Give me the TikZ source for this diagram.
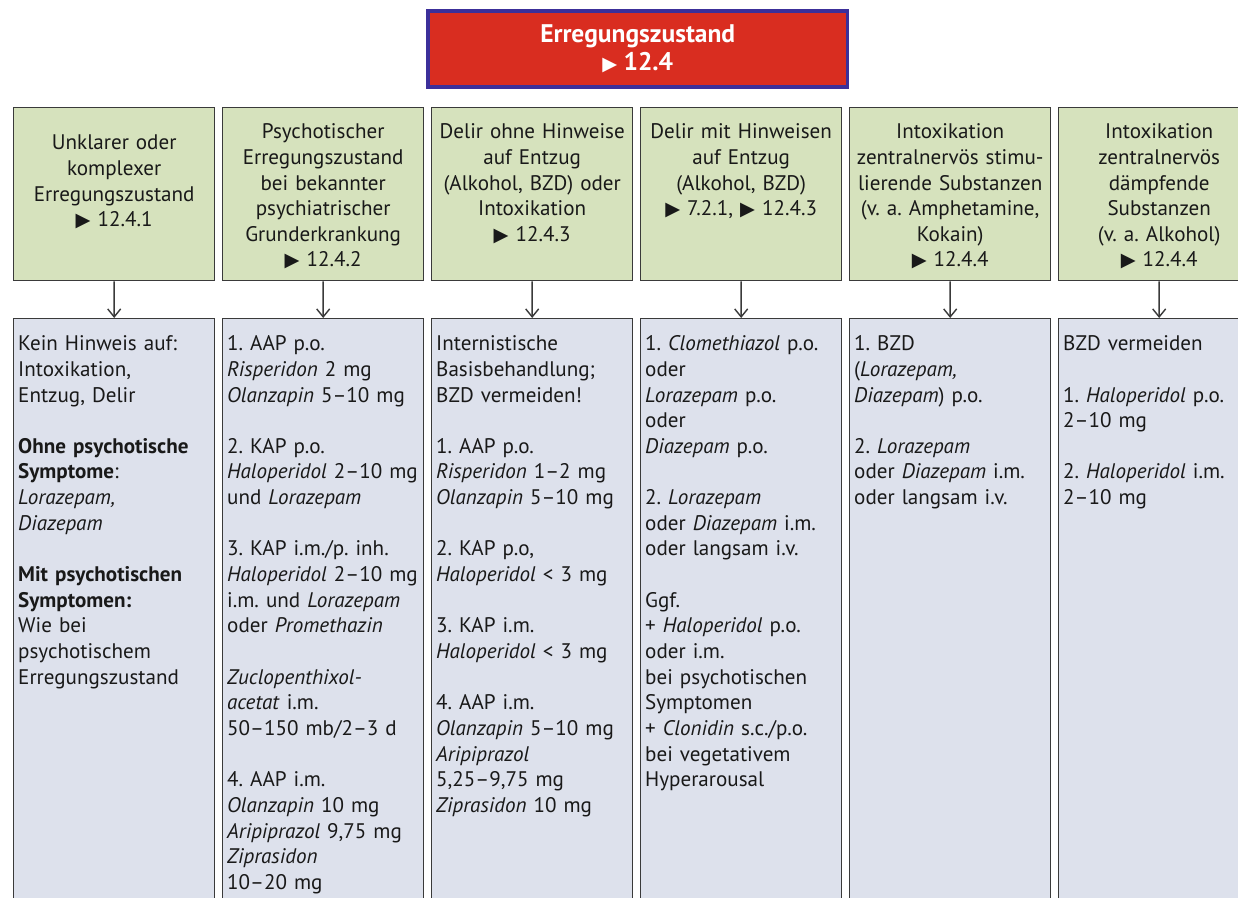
\documentclass[tikz,border=0pt]{standalone}
\usepackage{fontspec}
\setmainfont{PT Sans}
\newfontfamily\symbfont{DejaVu Sans}
\usetikzlibrary{arrows.meta}
\definecolor{kopfgruen}{HTML}{D6E2BD}
\definecolor{behblau}{HTML}{DDE1EC}
\definecolor{titelrot}{HTML}{D92D20}
\definecolor{titelblau}{HTML}{3C2F9A}
\definecolor{rahmen}{HTML}{3A3A3A}
\newcommand{\zu}{{\symbfont\fontsize{11}{11}\selectfont ▶}}
\frenchspacing

\begin{document}
\begin{tikzpicture}[x=0.02cm, y=-0.02cm,
    font=\fontsize{12}{14.6}\selectfont, text=black!90,
    titel/.style={draw=titelblau, line width=2pt, fill=titelrot, text=white,
      font=\fontsize{14.5}{15.4}\selectfont\bfseries, align=center,
      minimum width=8.4cm, minimum height=1.52cm, anchor=north west},
    kopf/.style={draw=rahmen, line width=0.8pt, fill=kopfgruen, anchor=north west,
      text width=3.96cm, align=center, inner xsep=0.03cm, inner ysep=0pt,
      text height=0.62cm, text depth=2.84cm},
    beh/.style={draw=rahmen, line width=0.8pt, fill=behblau, anchor=north west,
      text width=3.84cm, align=left, inner xsep=0.09cm, inner ysep=0pt,
      text height=0.64cm, text depth=11.6cm},
    >={Straight Barb[length=0.16cm,width=0.26cm]}]
  \useasboundingbox (0,0) rectangle (1238,897);

  \node[titel] (ez) at (426,9) {Erregungszustand\\\zu~12.4};

  \node[kopf, text height=0.84cm, text depth=2.62cm] (k1) at (13,107) {Unklarer oder\\komplexer\\Erregungszustand\\\zu~12.4.1};
  \node[kopf] (k2) at (222,107) {Psychotischer\\Erregungszustand\\bei bekannter\\psychiatrischer\\Grunderkrankung\\\zu~12.4.2};
  \node[kopf] (k3) at (431,107) {Delir ohne Hinweise\\auf Entzug\\(Alkohol, BZD) oder\\Intoxikation\\\zu~12.4.3};
  \node[kopf] (k4) at (640,107) {Delir mit Hinweisen\\auf Entzug\\(Alkohol, BZD)\\\zu~7.2.1, \zu~12.4.3};
  \node[kopf] (k5) at (849,107) {Intoxikation\\zentralnervös stimu-\\lierende Substanzen\\(v. a. Amphetamine,\\Kokain)\\\zu~12.4.4};
  \node[kopf] (k6) at (1058,107) {Intoxikation\\zentralnervös\\dämpfende\\Substanzen\\(v. a. Alkohol)\\\zu~12.4.4};

  \node[beh] (b1) at (13,318) {Kein Hinweis auf:\\Intoxikation,\\Entzug, Delir\\[14.6pt]\textbf{Ohne psychotische}\\\textbf{Symptome}:\\\textit{Lorazepam,}\\\textit{Diazepam}\\[14.6pt]\textbf{Mit psychotischen}\\\textbf{Symptomen:}\\Wie bei\\psychotischem\\Erregungszustand};
  \node[beh] (b2) at (222,318) {1. AAP p.o.\\\textit{Risperidon} 2 mg\\\textit{Olanzapin} 5--10 mg\\[14.6pt]2. KAP p.o.\\\textit{Haloperidol} 2--10 mg\\und \textit{Lorazepam}\\[14.6pt]3. KAP i.m./p. inh.\\\textit{Haloperidol} 2--10 mg\\i.m. und \textit{Lorazepam}\\oder \textit{Promethazin}\\[14.6pt]\textit{Zuclopenthixol-}\\\textit{acetat} i.m.\\50--150 mb/2--3 d\\[14.6pt]4. AAP i.m.\\\textit{Olanzapin} 10 mg\\\textit{Aripiprazol} 9,75 mg\\\textit{Ziprasidon}\\10--20 mg};
  \node[beh] (b3) at (431,318) {Internistische\\Basisbehandlung;\\BZD vermeiden!\\[14.6pt]1. AAP p.o.\\\textit{Risperidon} 1--2 mg\\\textit{Olanzapin} 5--10 mg\\[14.6pt]2. KAP p.o,\\\textit{Haloperidol} < 3 mg\\[14.6pt]3. KAP i.m.\\\textit{Haloperidol} < 3 mg\\[14.6pt]4. AAP i.m.\\\textit{Olanzapin} 5--10 mg\\\textit{Aripiprazol}\\5,25--9,75 mg\\\textit{Ziprasidon} 10 mg};
  \node[beh] (b4) at (640,318) {1. \textit{Clomethiazol} p.o.\\oder\\\textit{Lorazepam} p.o.\\oder\\\textit{Diazepam} p.o.\\[14.6pt]2. \textit{Lorazepam}\\oder \textit{Diazepam} i.m.\\oder langsam i.v.\\[14.6pt]Ggf.\\+ \textit{Haloperidol} p.o.\\oder i.m.\\bei psychotischen\\Symptomen\\+ \textit{Clonidin} s.c./p.o.\\bei vegetativem\\Hyperarousal};
  \node[beh] (b5) at (849,318) {1. BZD\\(\textit{Lorazepam,}\\\textit{Diazepam}) p.o.\\[14.6pt]2. \textit{Lorazepam}\\oder \textit{Diazepam} i.m.\\oder langsam i.v.};
  \node[beh] (b6) at (1058,318) {BZD vermeiden\\[14.6pt]1. \textit{Haloperidol} p.o.\\2--10 mg\\[14.6pt]2. \textit{Haloperidol} i.m.\\2--10 mg};

  \draw[->, rahmen, line width=0.8pt] (k1) to (b1);
  \draw[->, rahmen, line width=0.8pt] (k2) to (b2);
  \draw[->, rahmen, line width=0.8pt] (k3) to (b3);
  \draw[->, rahmen, line width=0.8pt] (k4) to (b4);
  \draw[->, rahmen, line width=0.8pt] (k5) to (b5);
  \draw[->, rahmen, line width=0.8pt] (k6) to (b6);
\end{tikzpicture}
\end{document}
